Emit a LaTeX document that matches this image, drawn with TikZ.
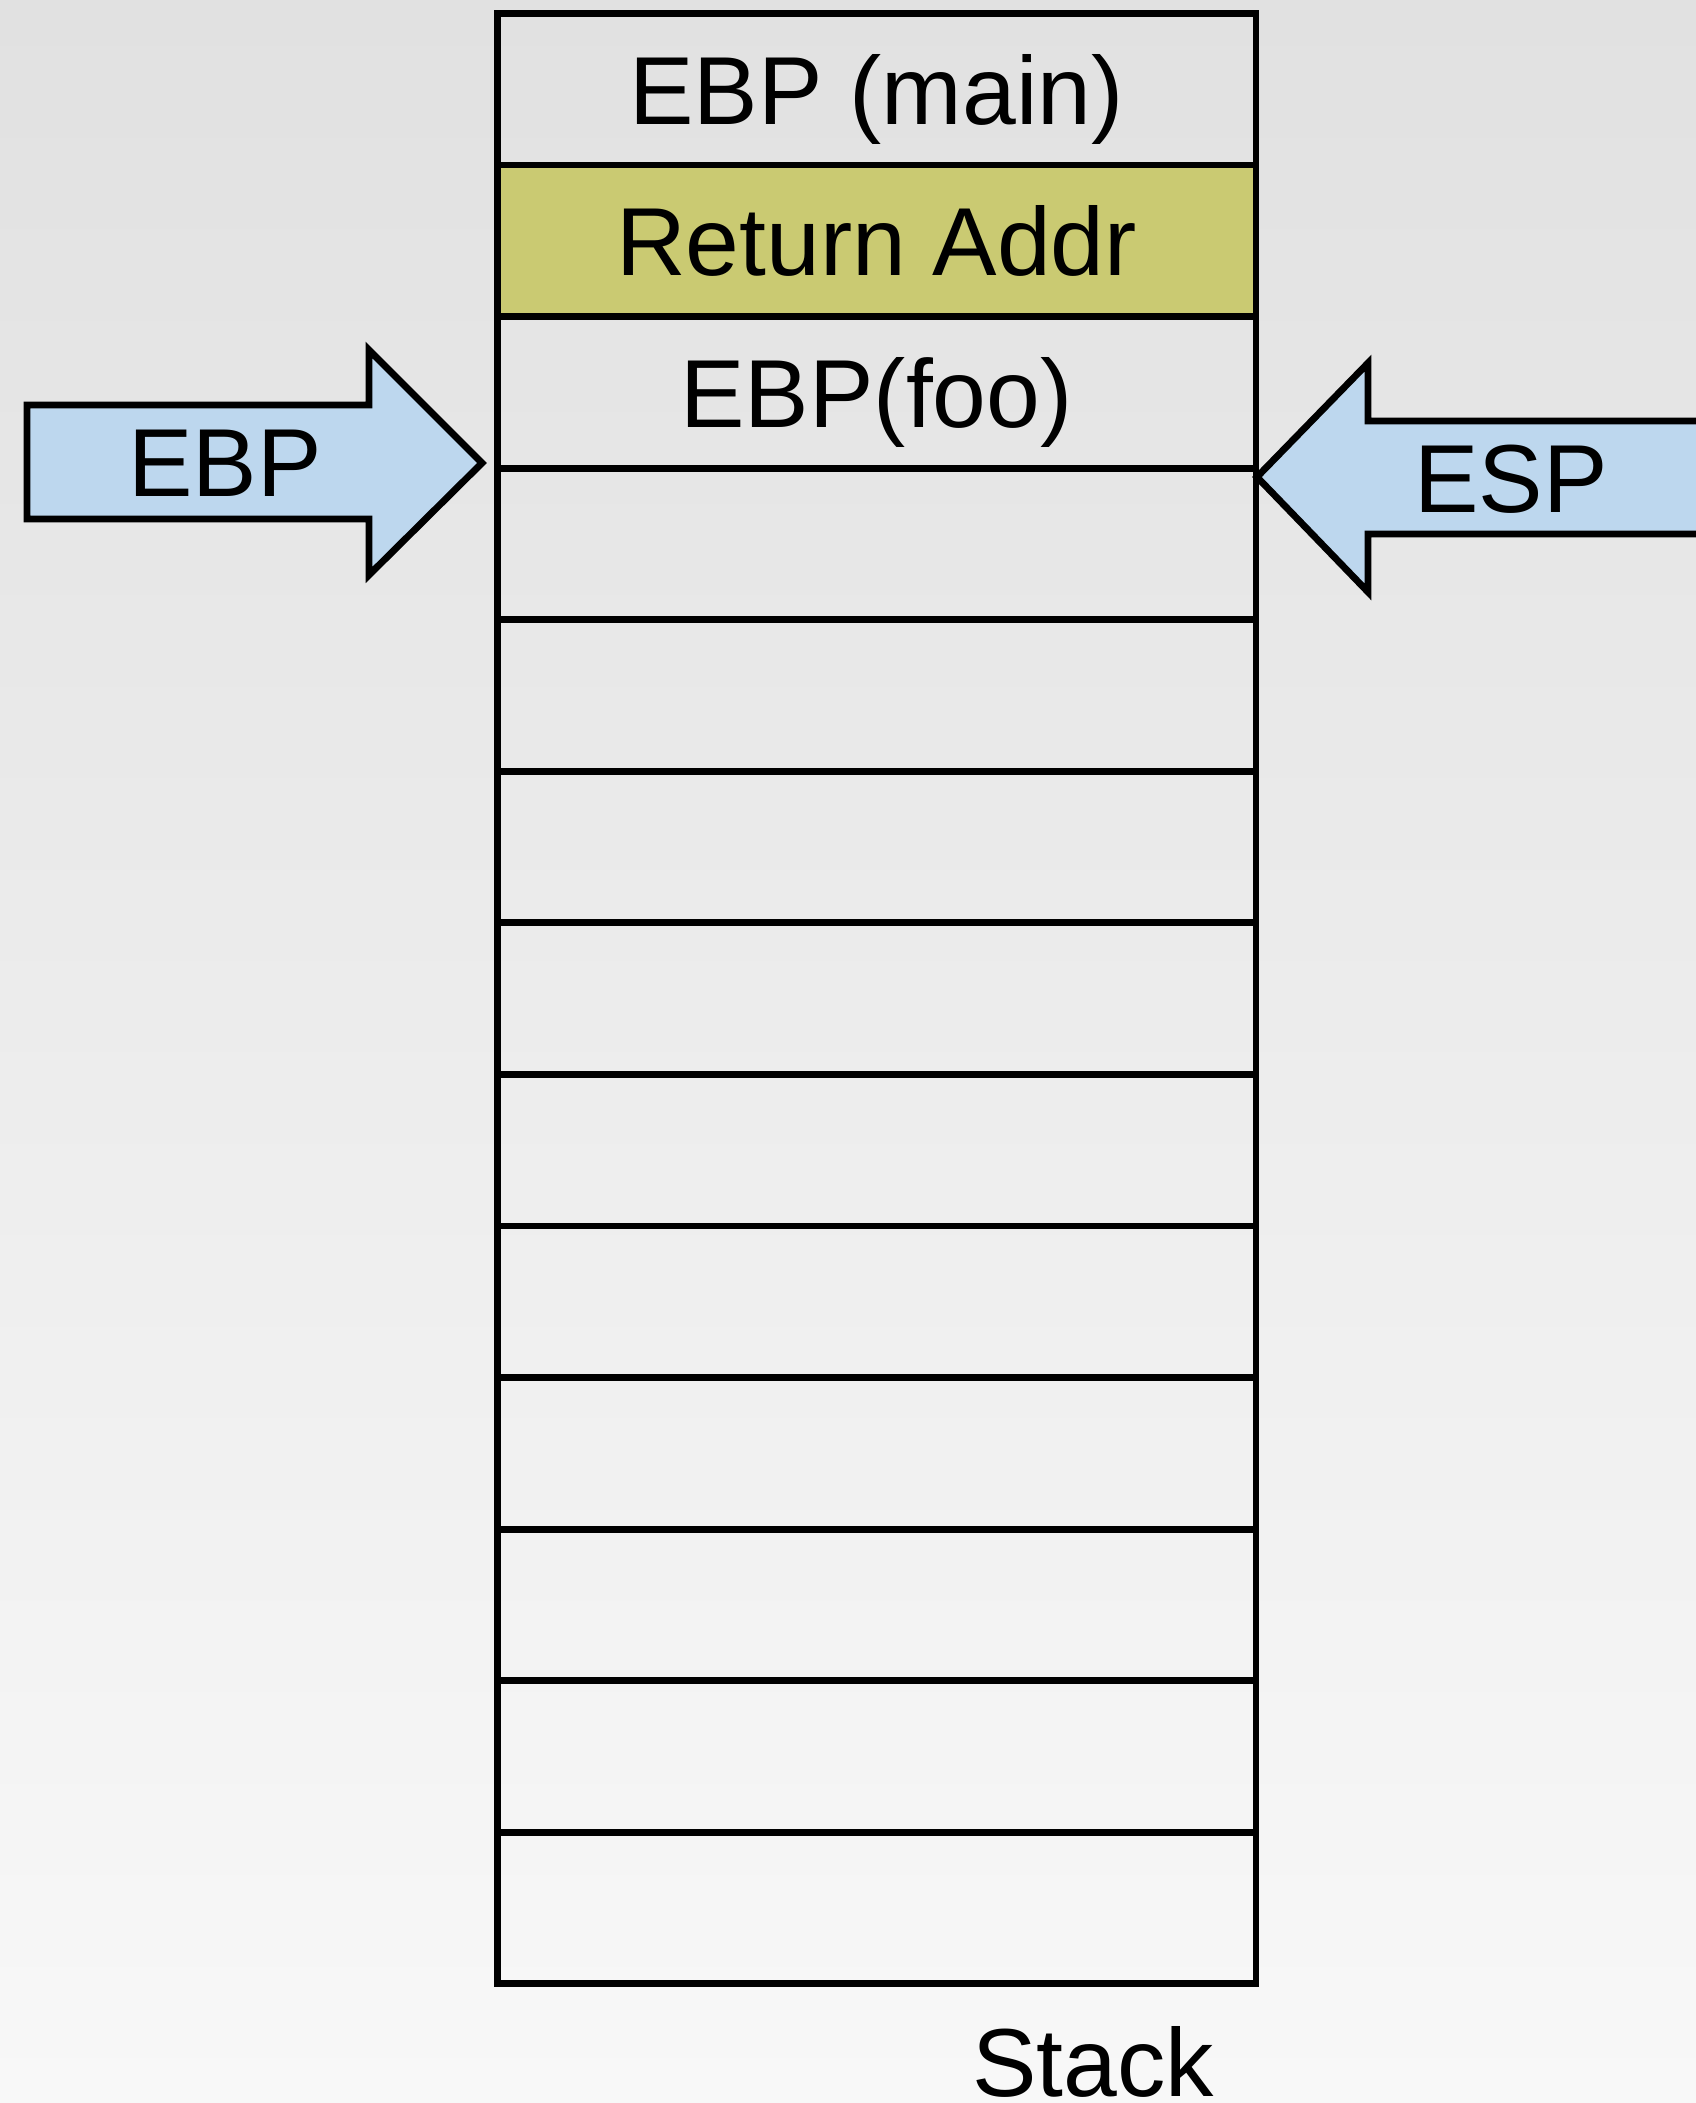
\documentclass[tikz,border=0pt]{standalone}
\usepackage{fontspec}
\setmainfont{Liberation Sans}
\usetikzlibrary{positioning}
\definecolor{bgtop}{HTML}{E1E1E1}
\definecolor{bgbot}{HTML}{F8F8F8}
\definecolor{retaddr}{HTML}{CACA72}
\definecolor{ptrblue}{HTML}{BDD7EE}
\begin{document}
\begin{tikzpicture}[x=0.02cm, y=-0.02cm, line width=3.9pt,
  every node/.style={font=\fontsize{55}{60}\selectfont},
  slot/.style={draw, minimum width=15.18cm, minimum height=3.032cm,
    text height=40pt, text depth=0pt,
    inner sep=0pt, outer sep=0pt, anchor=north},
  pointer/.style={draw, fill=ptrblue}]
\clip (0,0) rectangle (1696,2103);
\shade[top color=bgtop, bottom color=bgbot] (0,0) rectangle (1696,2103);
% stack slots
\node[slot] (s1) at (876.5,13.4) {EBP (main)};
\node[slot, fill=retaddr, below=0pt of s1] (s2) {Return Addr};
\node[slot, below=0pt of s2] (s3) {EBP(foo)};
\foreach \i [count=\j from 3] in {4,...,13}
  \node[slot, below=0pt of s\j] (s\i) {};
% pointers
\draw[pointer] (27,405) -- (369,405) -- (369,350) -- (482,463)
  -- (369,575) -- (369,519) -- (27,519) -- cycle;
\node (ebp) at (225,463) {EBP};
\draw[pointer] (1257,477) -- (1368,363) -- (1368,421) -- (1720,421)
  -- (1720,534) -- (1368,534) -- (1368,592) -- cycle;
\node (esp) at (1511,479) {ESP};
\node (stk) at (1093,2062) {Stack};
\end{tikzpicture}
\end{document}
